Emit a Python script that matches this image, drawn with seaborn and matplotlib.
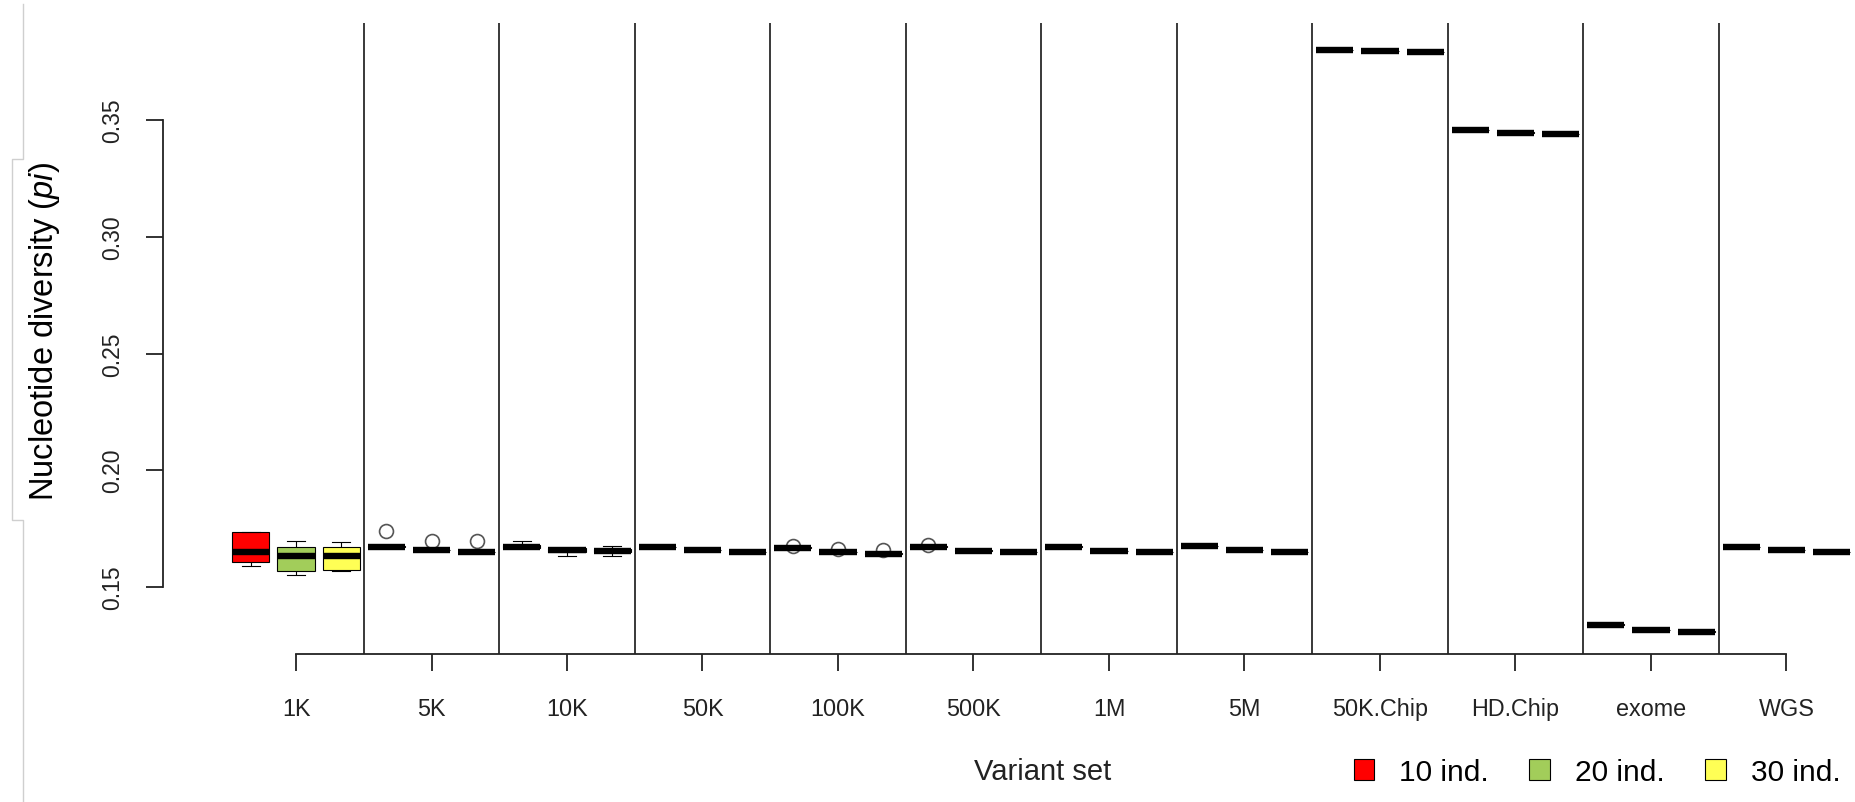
import numpy as np
import pandas as pd
import matplotlib
matplotlib.use("Agg")
import matplotlib.pyplot as plt
from matplotlib.patches import Patch
from matplotlib.lines import Line2D
import seaborn as sns

# ---------------- data ----------------
variant_sets = ["1K", "5K", "10K", "50K", "100K", "500K", "1M", "5M",
                "50K.Chip", "HD.Chip", "exome", "WGS"]
sample_sizes = ["10 ind.", "20 ind.", "30 ind."]
box_colors = ["#FF0000", "#A2CD5A", "#FFFF55"]
y_ticks = [0.15, 0.20, 0.25, 0.30, 0.35]
y_tick_labels = ["0.15", "0.20", "0.25", "0.30", "0.35"]

pi_10ind = [
    [0.1591, 0.1607, 0.1649, 0.1735, 0.1735],   # 1K
    [0.1672, 0.1673, 0.1673, 0.1674, 0.1739],   # 5K
    [0.1665, 0.1667, 0.1673, 0.1680, 0.1698],   # 10K
    [0.1669, 0.1670, 0.1671],                   # 50K
    [0.1668, 0.1669, 0.1669, 0.1670, 0.1677],   # 100K
    [0.1672, 0.1673, 0.1673, 0.1674, 0.1680],   # 500K
    [0.1672, 0.1673, 0.1674],                   # 1M
    [0.1673, 0.1674, 0.1675],                   # 5M
    [0.3800, 0.3801, 0.3802],                   # 50K.Chip
    [0.3455, 0.3456, 0.3457],                   # HD.Chip
    [0.1338, 0.1339, 0.1340],                   # exome
    [0.1671, 0.1672, 0.1673],                   # WGS
]
pi_20ind = [
    [0.1551, 0.1567, 0.1634, 0.1670, 0.1698],
    [0.1656, 0.1657, 0.1657, 0.1658, 0.1699],
    [0.1634, 0.1650, 0.1660, 0.1668, 0.1668],
    [0.1656, 0.1657, 0.1658],
    [0.1649, 0.1650, 0.1650, 0.1651, 0.1663],
    [0.1655, 0.1656, 0.1657],
    [0.1654, 0.1655, 0.1656],
    [0.1657, 0.1658, 0.1659],
    [0.3796, 0.3797, 0.3798],
    [0.3445, 0.3446, 0.3447],
    [0.1315, 0.1316, 0.1317],
    [0.1657, 0.1658, 0.1659],
]
pi_30ind = [
    [0.1570, 0.1573, 0.1634, 0.1670, 0.1691],
    [0.1648, 0.1649, 0.1649, 0.1650, 0.1698],
    [0.1634, 0.1648, 0.1654, 0.1662, 0.1677],
    [0.1649, 0.1650, 0.1651],
    [0.1642, 0.1643, 0.1643, 0.1644, 0.1660],
    [0.1648, 0.1649, 0.1650],
    [0.1648, 0.1649, 0.1650],
    [0.1649, 0.1650, 0.1651],
    [0.3789, 0.3790, 0.3791],
    [0.3440, 0.3441, 0.3442],
    [0.1308, 0.1309, 0.1310],
    [0.1649, 0.1650, 0.1651],
]

rows = []
for size, series in zip(sample_sizes, [pi_10ind, pi_20ind, pi_30ind]):
    for vs, vals in zip(variant_sets, series):
        for v in vals:
            rows.append((vs, size, v))
df = pd.DataFrame(rows, columns=["Variant set", "Sample", "pi"])

# ---------------- styling ----------------
plt.rcParams["font.family"] = ["Liberation Sans", "DejaVu Sans"]
plt.rcParams["mathtext.fontset"] = "custom"
plt.rcParams["mathtext.rm"] = "Liberation Sans"
plt.rcParams["mathtext.it"] = "Liberation Sans:italic"

W, H = 1856, 803
fig = plt.figure(figsize=(W / 100, H / 100), dpi=100)
ax_l, ax_r, ax_t, ax_b = 163, 1856, 23.7, 655
ax = fig.add_axes([ax_l / W, 1 - ax_b / H, (ax_r - ax_l) / W, (ax_b - ax_t) / H])

sns.boxplot(
    data=df, x="Variant set", y="pi", hue="Sample",
    order=variant_sets, hue_order=sample_sizes, palette=box_colors,
    saturation=1, width=1.0, gap=0.18, linecolor="black", linewidth=0.8,
    legend=False, ax=ax,
    medianprops=dict(linewidth=4.6, solid_capstyle="butt"),
    flierprops=dict(marker="o", markersize=10, markerfacecolor="none",
                    markeredgecolor="#555555", markeredgewidth=1.2),
)

# category pixel mapping: centre of category c at 296 + 135.5*c
xl0 = (ax_l - 296) / 135.5
xl1 = (ax_r - 296) / 135.5
yl0 = 0.15 + (588 - ax_b) / 2335
yl1 = 0.15 + (588 - ax_t) / 2335
ax.set_xlim(xl0, xl1)
ax.set_ylim(yl0, yl1)

ax.vlines(np.arange(0.5, len(variant_sets) - 0.5, 1.0), yl0, yl1,
          colors="#2a2a2a", linewidth=1.3, zorder=0.5)

for s in ["top", "right"]:
    ax.spines[s].set_visible(False)
ax.spines["left"].set_bounds(0.15, 0.35)
ax.spines["bottom"].set_bounds(0, len(variant_sets) - 1)
for s in ["left", "bottom"]:
    ax.spines[s].set_linewidth(1.3)
    ax.spines[s].set_color("#222222")

ax.set_xticks(range(len(variant_sets)))
ax.set_xticklabels(variant_sets)
ax.set_yticks(y_ticks)
ax.set_yticklabels(y_tick_labels, rotation=90, va="center")
ax.tick_params(axis="both", direction="out", length=12.2, width=1.3, color="#222222",
               labelcolor="#222222")
ax.tick_params(axis="y", labelsize=16.5, pad=15.5)
ax.tick_params(axis="x", labelsize=16.8, pad=19)
ax.set_xlabel("")
ax.set_ylabel("")

fig.text(1043 / W, 1 - 772 / H, "Variant set", ha="center", va="center",
         fontsize=21, color="#222222")
fig.text(45 / W, 1 - 331 / H, "Nucleotide diversity ($\\mathit{pi}$)", rotation=90,
         ha="center", va="center", fontsize=23.5, color="black")

# light grey panel bracket at far left
bx = np.array([23, 23, 12, 12, 23, 23]) / W
by = 1 - np.array([5, 160, 160, 521, 521, 803]) / H
fig.add_artist(Line2D(bx, by, transform=fig.transFigure, color="#cfcfcf", linewidth=1))

handles = [Patch(facecolor=c, edgecolor="black", linewidth=0.8) for c in box_colors]
fig.legend(handles=handles, labels=sample_sizes, ncol=3, frameon=False, fontsize=21.5,
           handlelength=0.69, handleheight=0.69, handletextpad=0.83, columnspacing=1.36,
           loc="center", bbox_to_anchor=(1597 / W, 1 - 773 / H))

fig.savefig("out.png", dpi=100)
